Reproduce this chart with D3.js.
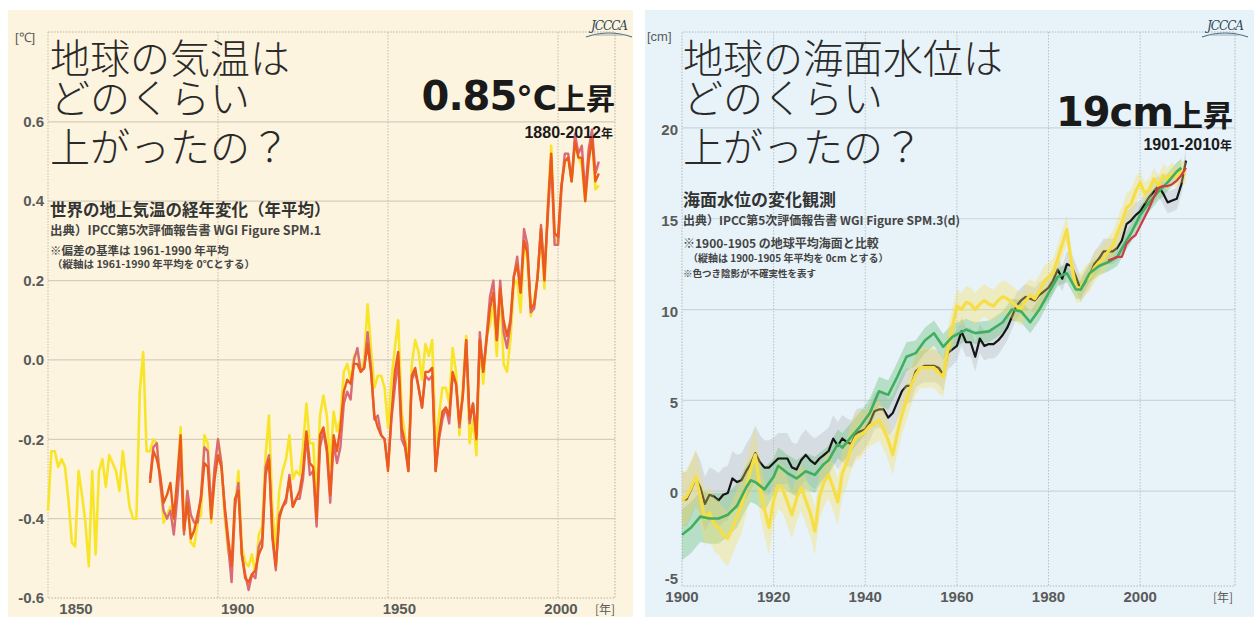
<!DOCTYPE html>
<html><head><meta charset="utf-8">
<script src="https://cdn.jsdelivr.net/npm/d3@7"></script>
<style>body{margin:0;background:#fff}svg{display:block}</style>
</head><body>
<svg id="c" width="1254" height="617"></svg>
<script>
// ---------------- DATA: temperature (anomaly vs 1961-1990, °C) ----------------
const tempYearsYellow = d3.range(1850, 2013);
const tempYellow = [
-0.38,-0.23,-0.23,-0.27,-0.25,-0.27,-0.35,-0.46,-0.47,-0.28,
-0.34,-0.41,-0.52,-0.28,-0.49,-0.28,-0.25,-0.32,-0.24,-0.26,
-0.28,-0.33,-0.23,-0.30,-0.37,-0.40,-0.40,-0.08,0.02,-0.23,
-0.23,-0.20,-0.21,-0.30,-0.41,-0.39,-0.37,-0.42,-0.31,-0.17,
-0.42,-0.33,-0.46,-0.47,-0.41,-0.39,-0.19,-0.21,-0.41,-0.29,
-0.20,-0.26,-0.40,-0.48,-0.52,-0.38,-0.28,-0.47,-0.51,-0.52,
-0.49,-0.54,-0.44,-0.42,-0.24,-0.14,-0.38,-0.47,-0.33,-0.28,
-0.25,-0.19,-0.30,-0.28,-0.29,-0.22,-0.11,-0.21,-0.21,-0.35,
-0.14,-0.09,-0.14,-0.27,-0.13,-0.18,-0.15,-0.03,-0.01,-0.05,
0.01,0.02,-0.03,0.00,0.14,0.03,-0.07,-0.04,-0.04,-0.07,
-0.17,-0.05,0.03,0.10,-0.13,-0.19,-0.27,-0.01,0.05,0.02,
-0.05,0.04,0.01,0.05,-0.22,-0.14,-0.07,-0.07,-0.11,0.03,
-0.03,-0.19,-0.07,0.06,-0.21,-0.15,-0.24,0.05,-0.06,0.06,
0.09,0.14,0.01,0.19,-0.01,-0.03,0.05,0.19,0.20,0.12,
0.30,0.25,0.11,0.15,0.21,0.33,0.18,0.39,0.54,0.31,
0.29,0.44,0.50,0.51,0.45,0.55,0.51,0.49,0.40,0.51,
0.56,0.43,0.44];
const tempYears1880 = d3.range(1880, 2013);
const tempOrange = [
-0.31,-0.23,-0.25,-0.29,-0.36,-0.34,-0.31,-0.40,-0.30,-0.19,
-0.43,-0.36,-0.45,-0.43,-0.39,-0.35,-0.26,-0.27,-0.40,-0.30,
-0.24,-0.27,-0.37,-0.45,-0.52,-0.35,-0.33,-0.49,-0.55,-0.56,
-0.54,-0.53,-0.49,-0.47,-0.29,-0.25,-0.44,-0.52,-0.40,-0.37,
-0.35,-0.30,-0.37,-0.35,-0.33,-0.28,-0.18,-0.26,-0.27,-0.40,
-0.19,-0.17,-0.22,-0.34,-0.19,-0.23,-0.17,-0.08,-0.05,-0.06,
-0.01,-0.01,-0.03,-0.02,0.04,-0.03,-0.14,-0.17,-0.19,-0.20,
-0.28,-0.14,-0.03,0.02,-0.17,-0.21,-0.28,-0.04,-0.02,-0.07,
-0.12,-0.03,-0.03,-0.02,-0.28,-0.19,-0.13,-0.12,-0.14,-0.03,
-0.06,-0.16,-0.09,0.05,-0.15,-0.11,-0.20,0.05,-0.03,0.05,
0.13,0.17,0.05,0.18,0.10,0.06,0.10,0.21,0.24,0.17,
0.30,0.27,0.13,0.14,0.21,0.33,0.20,0.38,0.52,0.32,
0.31,0.44,0.50,0.51,0.45,0.55,0.51,0.51,0.40,0.50,
0.56,0.45,0.47];
const tempRed = [
-0.30,-0.22,-0.21,-0.31,-0.38,-0.40,-0.38,-0.44,-0.35,-0.24,
-0.44,-0.33,-0.39,-0.41,-0.41,-0.34,-0.22,-0.23,-0.38,-0.27,
-0.20,-0.26,-0.38,-0.47,-0.56,-0.37,-0.31,-0.49,-0.54,-0.58,
-0.54,-0.55,-0.47,-0.45,-0.27,-0.24,-0.45,-0.53,-0.39,-0.37,
-0.36,-0.29,-0.37,-0.35,-0.35,-0.30,-0.19,-0.29,-0.28,-0.42,
-0.22,-0.18,-0.23,-0.36,-0.21,-0.26,-0.22,-0.11,-0.08,-0.10,
0.00,0.03,-0.03,-0.02,0.07,-0.02,-0.15,-0.14,-0.19,-0.20,
-0.27,-0.15,-0.07,0.00,-0.20,-0.22,-0.28,-0.05,-0.03,-0.07,
-0.12,-0.04,-0.05,-0.04,-0.28,-0.20,-0.15,-0.12,-0.16,-0.04,
-0.06,-0.17,-0.09,0.05,-0.16,-0.11,-0.19,0.07,-0.03,0.06,
0.16,0.20,0.05,0.20,0.07,0.03,0.09,0.21,0.26,0.17,
0.33,0.29,0.12,0.13,0.21,0.34,0.22,0.36,0.51,0.29,
0.29,0.43,0.52,0.52,0.45,0.57,0.52,0.54,0.42,0.53,
0.58,0.47,0.50];
const tempYTicks = [-0.6,-0.4,-0.2,0,0.2,0.4,0.6];
const tempYTickLabels = ["-0.6","-0.4","-0.2","0.0","0.2","0.4","0.6"];
const tempXTicks = [1850,1900,1950,2000];

// ---------------- DATA: sea level (cm, vs 1900-1905) ----------------
const seaYears = d3.range(1900, 2011);
const seaBlack = [
-0.45,-0.45,0.1,0.7,0.2,-0.7,-0.2,-0.3,-0.5,-0.2,
-0.1,0.7,0.5,0.6,1.1,1.5,2.1,1.6,1.3,1.3,
1.55,1.8,1.8,1.8,1.3,1.2,1.7,2.0,1.7,1.5,
1.8,2.0,2.2,2.9,2.5,2.9,2.7,2.6,3.2,3.3,
3.4,3.8,4.4,4.5,4.5,4.05,4.3,4.9,5.5,5.8,
5.8,6.6,6.8,6.9,6.9,6.9,6.8,6.4,7.6,7.8,
8.0,8.8,8.2,8.2,7.4,8.4,8.0,8.1,8.1,8.3,
8.6,9.0,9.6,10.2,10.5,10.7,10.6,10.5,10.8,11.0,
11.2,11.6,12.2,11.7,12.5,12.4,11.8,11.1,11.5,11.9,
12.5,12.8,13.2,13.2,13.2,13.4,13.8,14.7,14.9,15.2,
15.4,15.8,16.2,16.5,16.8,16.4,15.9,16.0,16.1,16.9,
18.2];
const seaYellow = [
-0.5,-0.3,0.2,0.8,-0.3,-1.5,-1.2,-1.8,-2.0,-2.4,
-2.6,-2.0,-1.4,-0.8,0.2,1.2,2.0,0.2,-1.0,-2.0,
-0.5,0.3,0.1,-0.6,-1.3,-0.4,0.2,-0.5,-1.2,-2.2,
-0.3,0.5,0.9,0.2,-0.6,1.0,1.6,2.5,3.0,3.1,
3.3,3.6,3.7,3.9,3.4,2.8,2.0,3.2,4.2,5.0,
5.8,6.4,6.8,6.8,6.8,6.8,6.5,6.3,7.8,9.0,
10.2,10.0,10.4,10.3,10.0,10.3,10.5,10.3,10.2,10.5,
10.7,10.6,10.4,10.2,10.0,10.5,10.8,10.6,11.0,11.5,
11.8,12.0,12.8,13.6,14.4,12.5,11.2,11.2,11.6,11.8,
12.3,12.6,12.8,13.2,13.5,14.2,14.8,15.6,15.8,16.5,
17.0,16.4,16.6,17.2,16.8,17.4,17.2,17.5,17.3,17.6,
17.5];
const seaGreenYears = [1900,1902,1904,1906,1908,1910,1912,1914,1915,1916,1918,1920,1921,1923,1925,1927,1929,1931,1932,1934,1935,1937,1939,1941,1943,1945,1947,1949,1951,1953,1955,1957,1959,1962,1964,1967,1970,1972,1974,1976,1978,1980,1982,1984,1986,1987,1989,1991,1993,1995,1997,1998,2000,2002,2004,2006,2008,2009];
const seaGreen = [-2.4,-2.0,-1.4,-1.5,-1.5,-1.3,-0.8,0.2,0.6,0.5,0.1,0.8,1.4,1.0,0.7,1.1,0.9,1.5,1.7,2.6,2.4,3.0,3.6,4.3,5.5,5.3,6.3,7.4,7.6,8.3,8.7,7.95,8.5,8.9,8.7,8.8,9.3,10.0,9.9,9.3,10.0,10.9,11.8,12.0,11.1,11.1,12.0,12.4,12.6,12.9,13.8,14.2,15.2,15.9,16.5,17.0,17.6,17.8];
const seaRedYears = d3.range(1993, 2011);
const seaRed = [12.7,12.8,12.9,12.9,13.6,13.9,14.1,14.6,15.1,15.6,16.2,16.7,16.8,16.8,16.9,17.1,17.4,17.8];
// uncertainty half-widths by decade (1900s, 1910s, ...)
const yellowUncByDecade = [1.5,1.5,1.3,1.3,1.1,1.1,0.9,0.9,0.8,0.8,0.6,0.6];
const blackUncByDecade  = [1.5,1.5,1.4,1.3,1.0,0.9,0.8,0.7,0.7,0.7,0.6,0.6];
const greenUncByDecade  = [1.4,1.2,1.0,0.8,0.8,0.7,0.6,0.6,0.5,0.5,0.5,0.5];
const seaYTicks = [-5,0,5,10,15,20];
const seaXTicks = [1900,1920,1940,1960,1980,2000];

// ---------------- DRAW ----------------
const svg = d3.select('#c');
const JP = "'Noto Sans CJK JP','Noto Sans',sans-serif";
const NUM = "'Liberation Sans Narrow','Liberation Sans',Arial,sans-serif";

svg.append('rect').attr('x',8).attr('y',10).attr('width',625).attr('height',607).attr('fill','#fcf4de');
svg.append('rect').attr('x',645).attr('y',10).attr('width',609).attr('height',607).attr('fill','#e7f3f9');

function title(g, x, lines){
  const t = g.append('text').attr('x',x).attr('y',73)
    .attr('font-family',JP).attr('font-weight',300).attr('font-size',40).attr('fill','#2a2a2a');
  t.selectAll('tspan').data(lines).join('tspan')
    .attr('x',x).attr('dy',(d,i)=>i===0?0:[0,40,49][i]).text(d=>d);
}

// ======== LEFT PANEL ========
const L = {x0:48,x1:615,y0:32,y1:598};
const xT = d3.scaleLinear().domain([1850, 2016.76]).range([L.x0, L.x1]);
const yT = d3.scaleLinear().domain([-0.6, 0.8265]).range([L.y1, L.y0]);
const xTLab = d3.scaleLinear().domain([1850, 2000]).range([76, 561]);
const gL = svg.append('g');
gL.selectAll('line.h').data(tempYTicks.filter(d=>d>-0.6)).join('line')
  .attr('x1',L.x0).attr('x2',L.x1).attr('y1',d=>yT(d)).attr('y2',d=>yT(d))
  .attr('stroke','#d6cebd').attr('stroke-width',1.2);
gL.selectAll('line.v').data(tempXTicks).join('line')
  .attr('x1',d=>xT(d)).attr('x2',d=>xT(d)).attr('y1',L.y0).attr('y2',L.y1)
  .attr('stroke','#c4bcab').attr('stroke-width',1).attr('stroke-dasharray','1.5,1.5');
gL.append('path').attr('d',`M${L.x0},${L.y0}H${L.x1}V${L.y1}H${L.x0}`)
  .attr('fill','none').attr('stroke','#b9b2a3').attr('stroke-dasharray','1.5,1.5');

const lineT = (ys) => d3.line().x((d,i)=>xT(ys[i])).y(d=>yT(d));
gL.append('path').attr('d', lineT(tempYearsYellow)(tempYellow))
  .attr('fill','none').attr('stroke','#f8e52a').attr('stroke-width',2.6).attr('stroke-linejoin','round');
gL.append('path').attr('d', lineT(tempYears1880)(tempRed))
  .attr('fill','none').attr('stroke','#da6a78').attr('stroke-width',2.4).attr('stroke-linejoin','round');
gL.append('path').attr('d', lineT(tempYears1880)(tempOrange))
  .attr('fill','none').attr('stroke','#ec5a1c').attr('stroke-width',2.4).attr('stroke-linejoin','round');

gL.selectAll('text.yl').data(tempYTicks).join('text')
  .attr('x',44).attr('y',d=>yT(d)).attr('dy','0.35em').attr('text-anchor','end')
  .attr('font-family',NUM).attr('font-weight','bold').attr('font-size',15).attr('fill','#5a5a5a')
  .text((d,i)=>tempYTickLabels[i]);
gL.selectAll('text.xl').data(tempXTicks).join('text')
  .attr('x',d=>xTLab(d)).attr('y',614).attr('text-anchor','middle')
  .attr('font-family',NUM).attr('font-weight','bold').attr('font-size',15).attr('fill','#5a5a5a')
  .text(d=>d);
gL.append('text').attr('x',605).attr('y',614).attr('text-anchor','middle')
  .attr('font-family',JP).attr('font-size',12).attr('fill','#5a5a5a').text('[年]');
gL.append('text').attr('x',15).attr('y',42)
  .attr('font-family',NUM).attr('font-size',13).attr('fill','#5a5a5a').text('[℃]');

title(gL, 50, ['地球の気温は','どのくらい','上がったの？']);
gL.append('text').attr('x',50).attr('y',216).attr('font-family',JP).attr('font-weight','bold')
  .attr('font-size',16.5).attr('fill','#333').text('世界の地上気温の経年変化（年平均）');
gL.append('text').attr('x',50).attr('y',235).attr('font-family',JP).attr('font-weight','bold')
  .attr('font-size',12.5).attr('fill','#444').text('出典）IPCC第5次評価報告書 WGI Figure SPM.1');
gL.append('text').attr('x',50).attr('y',255).attr('font-family',JP).attr('font-weight','bold')
  .attr('font-size',11.5).attr('fill','#444').text('※偏差の基準は 1961-1990 年平均');
gL.append('text').attr('x',52).attr('y',268).attr('font-family',JP).attr('font-weight','bold')
  .attr('font-size',10.5).attr('fill','#444').text('（縦軸は 1961-1990 年平均を 0℃とする）');
const hl = gL.append('text').attr('x',615).attr('y',110).attr('text-anchor','end').attr('fill','#1a1a1a');
hl.append('tspan').attr('font-family',"'DejaVu Sans',sans-serif").attr('font-weight','bold').attr('font-size',40).attr('letter-spacing',-1).text('0.85');
hl.append('tspan').attr('font-family',"'DejaVu Sans',sans-serif").attr('font-weight','bold').attr('font-size',33).text('°C');
hl.append('tspan').attr('font-family',JP).attr('font-weight','bold').attr('font-size',29).text('上昇');
const sl = gL.append('text').attr('x',613).attr('y',138).attr('text-anchor','end').attr('fill','#1a1a1a');
sl.append('tspan').attr('font-family',NUM).attr('font-weight','bold').attr('font-size',16).text('1880-2012');
sl.append('tspan').attr('font-family',JP).attr('font-weight','bold').attr('font-size',12).text('年');

function logo(g, cx){
  g.append('text').attr('x',cx).attr('y',30).attr('text-anchor','middle')
   .attr('font-family',"'DejaVu Serif',serif").attr('font-style','italic').attr('font-size',12)
   .attr('fill','#2c4658').attr('letter-spacing',-1).text('JCCCA');
  g.append('path').attr('d',`M${cx-23},37 Q${cx},29 ${cx+23},37`).attr('fill','none').attr('stroke','#557080').attr('stroke-width',1.2);
  g.append('line').attr('x1',cx-14).attr('x2',cx+14).attr('y1',35).attr('y2',35).attr('stroke','#8a9ca8').attr('stroke-width',0.8);
}
logo(gL, 609);

// ======== RIGHT PANEL ========
const R = {x0:682,x1:1235,y0:32,y1:586};
const xS = d3.scaleLinear().domain([1900, 2020.7]).range([R.x0, R.x1]);
const yS = d3.scaleLinear().domain([-5.22, 25.28]).range([R.y1, R.y0]);
const gR = svg.append('g');
gR.selectAll('line.h').data(seaYTicks.filter(d=>d>-5)).join('line')
  .attr('x1',R.x0).attr('x2',R.x1).attr('y1',d=>yS(d)).attr('y2',d=>yS(d))
  .attr('stroke','#c9d6dc').attr('stroke-width',1.2);
gR.selectAll('line.v').data(seaXTicks.filter(d=>d>1900)).join('line')
  .attr('x1',d=>xS(d)).attr('x2',d=>xS(d)).attr('y1',R.y0).attr('y2',R.y1)
  .attr('stroke','#b6c2c8').attr('stroke-width',1).attr('stroke-dasharray','1.5,1.5');
gR.append('path').attr('d',`M${R.x0},${R.y1}V${R.y0}H${R.x1}V${R.y1}H${R.x0}`)
  .attr('fill','none').attr('stroke','#aeb9bf').attr('stroke-dasharray','1.5,1.5');

const unc = (arr, yr) => arr[Math.floor((yr-1900)/10)];
const area = (years, vals, ua) => d3.area()
  .x((d,i)=>xS(years[i])).y0((d,i)=>yS(vals[i]-unc(ua,years[i]))).y1((d,i)=>yS(vals[i]+unc(ua,years[i])))(vals);
const lineS = (years) => d3.line().x((d,i)=>xS(years[i])).y(d=>yS(d));

gR.append('path').attr('d',area(seaYears,seaBlack,blackUncByDecade)).attr('fill','rgba(190,196,198,0.45)');
gR.append('path').attr('d',area(seaGreenYears,seaGreen,greenUncByDecade)).attr('fill','rgba(95,185,105,0.35)');
gR.append('path').attr('d',lineS(seaYears)(seaBlack)).attr('fill','none').attr('stroke','#151515').attr('stroke-width',2.2).attr('stroke-linejoin','round');
gR.append('path').attr('d',area(seaYears,seaYellow,yellowUncByDecade)).attr('fill','rgba(248,222,90,0.35)');
gR.append('path').attr('d',lineS(seaYears)(seaYellow)).attr('fill','none').attr('stroke','#f6df46').attr('stroke-width',3.2).attr('stroke-linejoin','round');
gR.append('path').attr('d',lineS(seaGreenYears)(seaGreen)).attr('fill','none').attr('stroke','#3fae5e').attr('stroke-width',2.6).attr('stroke-linejoin','round');
gR.append('path').attr('d',lineS(seaRedYears)(seaRed)).attr('fill','none').attr('stroke','#cf3a48').attr('stroke-width',2.2).attr('stroke-linejoin','round');

gR.selectAll('text.yl').data(seaYTicks).join('text')
  .attr('x',678).attr('y',d=>yS(d)+(d===-5?-3:2)).attr('dy','0.35em').attr('text-anchor','end')
  .attr('font-family',NUM).attr('font-weight','bold').attr('font-size',15).attr('fill','#5a5a5a').text(d=>d);
gR.selectAll('text.xl').data(seaXTicks).join('text')
  .attr('x',d=>xS(d)).attr('y',602).attr('text-anchor','middle')
  .attr('font-family',NUM).attr('font-weight','bold').attr('font-size',15).attr('fill','#5a5a5a').text(d=>d);
gR.append('text').attr('x',1223).attr('y',602).attr('text-anchor','middle')
  .attr('font-family',JP).attr('font-size',12).attr('fill','#5a5a5a').text('[年]');
gR.append('text').attr('x',647).attr('y',41)
  .attr('font-family',NUM).attr('font-size',13).attr('fill','#5a5a5a').text('[cm]');

title(gR, 683, ['地球の海面水位は','どのくらい','上がったの？']);
gR.append('text').attr('x',683).attr('y',206).attr('font-family',JP).attr('font-weight','bold')
  .attr('font-size',17).attr('fill','#333').text('海面水位の変化観測');
gR.append('text').attr('x',683).attr('y',225).attr('font-family',JP).attr('font-weight','bold')
  .attr('font-size',12).attr('fill','#444').text('出典）IPCC第5次評価報告書 WGI Figure SPM.3(d)');
gR.append('text').attr('x',683).attr('y',248).attr('font-family',JP).attr('font-weight','bold')
  .attr('font-size',12).attr('fill','#444').text('※1900-1905 の地球平均海面と比較');
gR.append('text').attr('x',688).attr('y',262).attr('font-family',JP).attr('font-weight','bold')
  .attr('font-size',10).attr('fill','#444').text('（縦軸は 1900-1905 年平均を 0cm とする）');
gR.append('text').attr('x',683).attr('y',277).attr('font-family',JP).attr('font-weight','bold')
  .attr('font-size',9.5).attr('fill','#444').text('※色つき陰影が不確実性を表す');
const hr = gR.append('text').attr('x',1233).attr('y',126).attr('text-anchor','end').attr('fill','#1a1a1a');
hr.append('tspan').attr('font-family',"'DejaVu Sans',sans-serif").attr('font-weight','bold').attr('font-size',40).attr('letter-spacing',-1).text('19cm');
hr.append('tspan').attr('font-family',JP).attr('font-weight','bold').attr('font-size',30).text('上昇');
const sr = gR.append('text').attr('x',1232).attr('y',150).attr('text-anchor','end').attr('fill','#1a1a1a');
sr.append('tspan').attr('font-family',NUM).attr('font-weight','bold').attr('font-size',16).text('1901-2010');
sr.append('tspan').attr('font-family',JP).attr('font-weight','bold').attr('font-size',12).text('年');
logo(gR, 1225);
</script>
</body></html>
